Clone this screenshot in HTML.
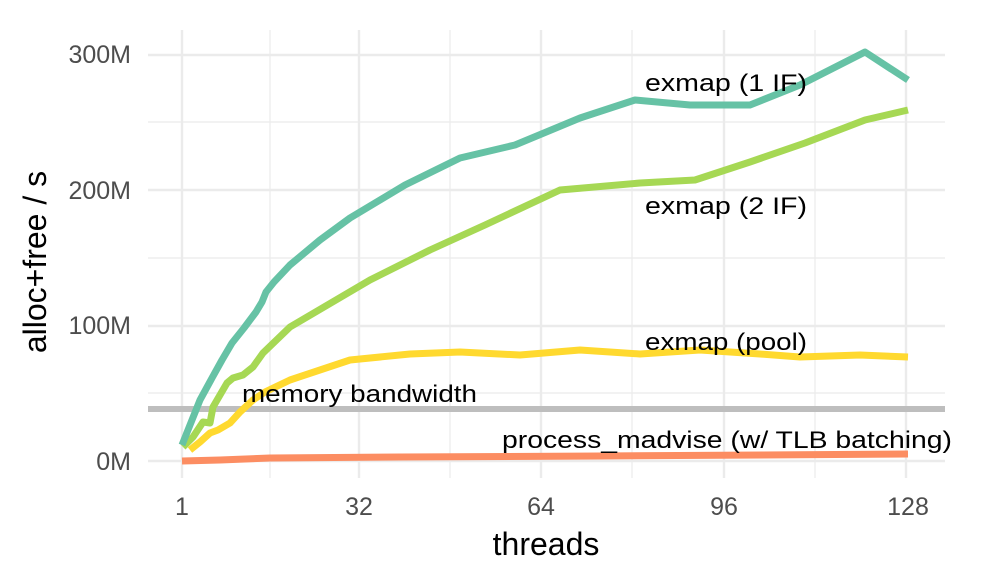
<!DOCTYPE html>
<html><head><meta charset="utf-8"><style>body{margin:0;background:#fff}svg{display:block}</style></head><body>
<svg width="985" height="580" viewBox="0 0 985 580" xmlns="http://www.w3.org/2000/svg" font-family="Liberation Sans, sans-serif">
<g stroke="#ebebeb" stroke-width="1.2">
<line x1="148" x2="945" y1="393" y2="393"/><line x1="148" x2="945" y1="258" y2="258"/><line x1="148" x2="945" y1="122" y2="122"/>
<line x1="270" x2="270" y1="30" y2="478"/><line x1="450" x2="450" y1="30" y2="478"/><line x1="632" x2="632" y1="30" y2="478"/><line x1="815" x2="815" y1="30" y2="478"/>
</g>
<g stroke="#ebebeb" stroke-width="2.4">
<line x1="148" x2="945" y1="461" y2="461"/><line x1="148" x2="945" y1="326" y2="326"/><line x1="148" x2="945" y1="190" y2="190"/><line x1="148" x2="945" y1="55" y2="55"/>
<line x1="182" x2="182" y1="30" y2="478"/><line x1="359" x2="359" y1="30" y2="478"/><line x1="541" x2="541" y1="30" y2="478"/><line x1="724" x2="724" y1="30" y2="478"/><line x1="906" x2="906" y1="30" y2="478"/>
</g>
<line x1="148" x2="945" y1="409" y2="409" stroke="#bebebe" stroke-width="6"/>
<g fill="none" stroke-width="7" stroke-linejoin="round">
<polyline stroke="#fc8d62" points="182,461 220,460 270,458 400,457 600,456 908,454"/>
<polyline stroke="#ffd92f" points="190,450 200,442 210,433 218,430 230,423 240,412 253,400 265,392 290,380 350,360 410,354 460,352 520,355 580,350 640,354 700,350 760,354 800,357 860,355 908,357"/>
<polyline stroke="#a6d854" points="183,447 193,437 203,422 210,423 213,407 227,383 233,378 243,375 253,367 263,353 290,327 370,280 430,250 485,225 560,190 640,183 695,180 750,162 805,143 865,120 908,110"/>
<polyline stroke="#66c2a5" points="182,445 190,425 200,400 212,378 222,360 232,343 244,328 256,312 262,302 266,292 274,282 290,265 320,240 350,218 405,185 460,158 515,145 580,118 635,100 690,105 750,105 800,85 865,52 908,80"/>
</g>
<g font-size="24" fill="#000">
<text x="645" y="91" textLength="162" lengthAdjust="spacingAndGlyphs">exmap (1 IF)</text>
<text x="645" y="214" textLength="162" lengthAdjust="spacingAndGlyphs">exmap (2 IF)</text>
<text x="645" y="350" textLength="162" lengthAdjust="spacingAndGlyphs">exmap (pool)</text>
<text x="242" y="402" textLength="235" lengthAdjust="spacingAndGlyphs">memory bandwidth</text>
<text x="502" y="448" textLength="450" lengthAdjust="spacingAndGlyphs">process_madvise (w/ TLB batching)</text>
</g>
<g font-size="25" fill="#4d4d4d" text-anchor="end">
<text x="131" y="63">300M</text><text x="131" y="199">200M</text><text x="131" y="334">100M</text><text x="131" y="470">0M</text>
</g>
<g font-size="25" fill="#4d4d4d" text-anchor="middle">
<text x="182" y="515">1</text><text x="359" y="515">32</text><text x="541" y="515">64</text><text x="724" y="515">96</text><text x="908" y="515">128</text>
</g>
<text x="546" y="555" font-size="32" text-anchor="middle">threads</text>
<text transform="translate(46,262) rotate(-90)" font-size="32" text-anchor="middle">alloc+free / s</text>
</svg>
</body></html>
